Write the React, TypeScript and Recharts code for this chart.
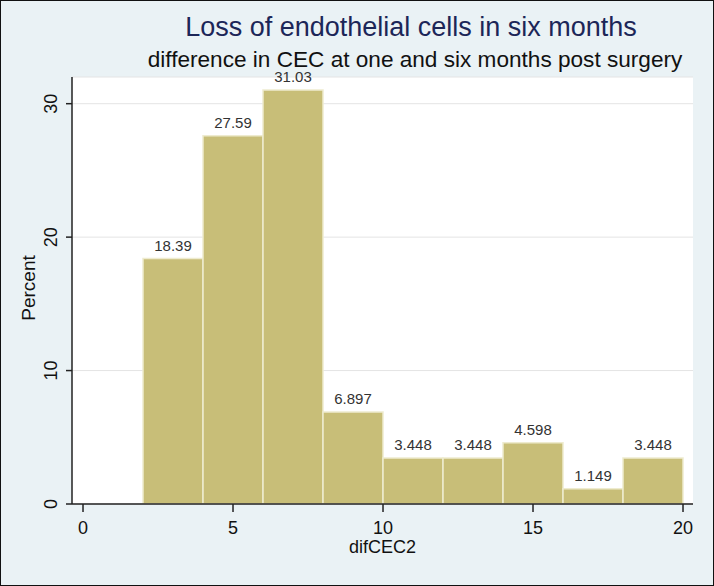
import React from "react"
import { ComposedChart, Bar, XAxis, YAxis, CartesianGrid, LabelList } from "recharts"

// histogram bins (start of each bin) and percent per bin
const binStarts = [2, 4, 6, 8, 10, 12, 14, 16, 18]
const binWidth = 2
const percents = [18.39, 27.59, 31.03, 6.897, 3.448, 3.448, 4.598, 1.149, 3.448]
const xTicks = [0, 5, 10, 15, 20]
const yTicks = [0, 10, 20, 30]

const X_MIN = -0.367
const X_MAX = 20.333
const Y_MAX = 32

const CHART_W = 712
const CHART_H = 584
const MARGIN = { top: 76, right: 20, bottom: 0, left: 0 }
const Y_AXIS_W = 71
const X_AXIS_H = 81
const PLOT_W = CHART_W - MARGIN.left - MARGIN.right - Y_AXIS_W

const FONT = "'Liberation Sans', Arial, sans-serif"
const BAR_FILL = "#c8be78"

const data = binStarts.map((s, i) => ({ mid: s + binWidth / 2, pct: percents[i] }))

const pxPerUnit = PLOT_W / (X_MAX - X_MIN)
const padLeft = (binStarts[0] - X_MIN) * pxPerUnit
const padRight = (X_MAX - (binStarts[binStarts.length - 1] + binWidth)) * pxPerUnit

function YTick({ x, y, payload }: any) {
  return (
    <text x={x} y={y} transform={`rotate(-90 ${x} ${y})`} textAnchor="middle"
      fontSize={18} fontFamily={FONT} fill="#111">{payload.value}</text>
  )
}

export default function App() {
  return (
    <div style={{ position: "absolute", left: 0, top: 0, width: 714, height: 586, boxSizing: "border-box",
      border: "1px solid #111", background: "#eaf2f5", fontFamily: FONT }}>
      <div style={{ position: "absolute", left: MARGIN.left + Y_AXIS_W, top: MARGIN.top, width: PLOT_W,
        height: CHART_H - MARGIN.top - X_AXIS_H, background: "#fff" }} />
      <ComposedChart width={CHART_W} height={CHART_H} data={data} margin={MARGIN} barCategoryGap={0}
        style={{ position: "absolute", left: 0, top: 0 }}>
        <CartesianGrid xAxisId="num" vertical={false} stroke="#e4e4e4" />
        <XAxis xAxisId="num" dataKey="mid" type="number" domain={[X_MIN, X_MAX]} ticks={xTicks}
          allowDataOverflow height={X_AXIS_H} tickSize={8} tickMargin={9}
          stroke="#222" strokeWidth={1.5}
          tick={{ fontSize: 18, fill: "#111", fontFamily: FONT }}
          label={{ value: "difCEC2", position: "insideBottom", offset: 32, fontSize: 18, fill: "#111", fontFamily: FONT }} />
        <XAxis xAxisId="bins" dataKey="mid" type="category" hide height={0}
          padding={{ left: padLeft, right: padRight }} />
        <YAxis domain={[0, Y_MAX]} ticks={yTicks} width={Y_AXIS_W} tickSize={6} tickMargin={9}
          stroke="#222" strokeWidth={1.5} tick={<YTick />} allowDataOverflow />
        <Bar xAxisId="bins" dataKey="pct" fill={BAR_FILL} stroke="#eeebcf" strokeWidth={1.5} isAnimationActive={false}>
          <LabelList dataKey="pct" position="top" offset={8} fontSize={15} fill="#333" fontFamily={FONT} />
        </Bar>
      </ComposedChart>
      <svg width={712} height={584} style={{ position: "absolute", left: 0, top: 0, pointerEvents: "none" }}>
        <text x={410} y={35} textAnchor="middle" fontSize={27} fill="#1c2658" fontFamily={FONT}>
          Loss of endothelial cells in six months
        </text>
        <text x={414} y={66} textAnchor="middle" fontSize={22.6} fill="#111" fontFamily={FONT}>
          difference in CEC at one and six months post surgery
        </text>
        <text x={27} y={287} transform="rotate(-90 27 287)" textAnchor="middle" dominantBaseline="central"
          fontSize={19} fill="#111" fontFamily={FONT}>Percent</text>
      </svg>
    </div>
  )
}
